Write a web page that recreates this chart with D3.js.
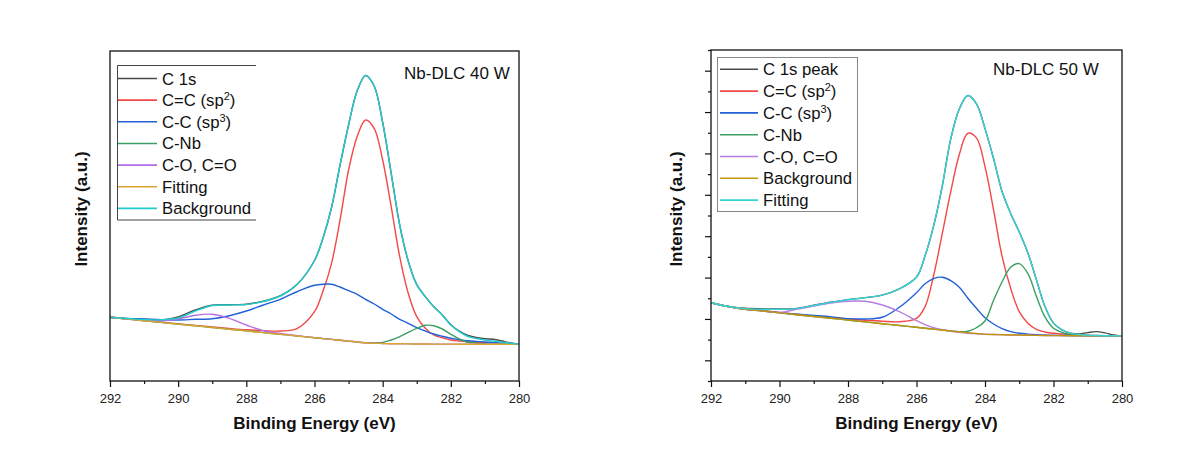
<!DOCTYPE html>
<html>
<head>
<meta charset="utf-8">
<script src="https://cdn.jsdelivr.net/npm/d3@7"></script>
<style>
  body { margin: 0; background: #fff; }
  svg { display: block; font-family: "Liberation Sans", Arial, sans-serif; }
  .axis text { font-size: 13px; fill: #222; font-family: "Liberation Sans", Arial, sans-serif; }
  .axis line { stroke: #111; stroke-width: 1.2; }
</style>
</head>
<body>
<svg id="chart" width="1194" height="452"></svg>
<script>
// binding energy grid (eV), shared by both spectra
const energy = [292, 291.5, 291, 290.5, 290, 289.5, 289, 288.5, 288, 287.5, 287, 286.5, 286,
	285.75, 285.5, 285.25, 285, 284.75, 284.5, 284.25, 284, 283.75, 283.5, 283.25, 283, 282.75,
	282.5, 282.25, 282, 281.75, 281.5, 281.25, 281, 280.75, 280.5, 280.25, 280];

const xTicks = [292, 290, 288, 286, 284, 282, 280];
const xMinorTicks = [291, 289, 287, 285, 283, 281];
const yTicks50 = [0, 40, 80, 120, 160, 200, 240, 280];
const yMinorTicks50 = [-20, 20, 60, 100, 140, 180, 220, 260, 300];

// Nb-DLC 40 W (a.u.)
const raw40 = [63.7, 62.3, 61.8, 61.0, 64.0, 71.0, 75.8, 76.3, 76.8, 79.8, 85.3, 97.0, 120.5,
	143, 173.5, 216, 256, 290, 305.5, 295, 258.5, 207.7, 156, 120, 96.3, 84.4,
	74.2, 66.0, 56.3, 49.8, 45.5, 43.5, 42.2, 41.8, 40.0, 38.0, 36.7];
const sp2_40 = [63.7, 62.1, 60.5, 58.8, 57.2, 55.6, 54.0, 52.5, 51.2, 50.4, 50.0, 52.7, 69.3,
	90, 117.7, 161, 211, 244.3, 261, 252.7, 221, 174.3, 124.3, 87.7, 64.3, 52.7,
	46.0, 43.2, 41.0, 40.0, 39.3, 38.8, 38.3, 38.0, 37.7, 37.2, 36.7];
const sp3_40 = [63.7, 62.6, 62.0, 61.3, 61.0, 61.7, 62.3, 65.3, 70.0, 76.0, 81.7, 89.5, 95.7,
	96.8, 96.7, 94.0, 90.3, 86.7, 81.7, 77.0, 71.7, 67.0, 61.7, 57.7, 53.3, 50.0,
	47.0, 44.7, 42.7, 41.4, 40.3, 39.6, 39.0, 38.5, 38.0, 37.4, 36.7];
const cnb40 = [63.7, 62.0, 60.3, 58.6, 56.9, 55.2, 53.5, 51.8, 50.1, 48.4, 46.7, 45.0, 43.3,
	42.4, 41.6, 40.7, 39.9, 39.0, 38.3, 38.2, 38.5, 41.0, 44.3, 48.7, 52.7, 55.7,
	55.2, 52.0, 46.7, 42.0, 38.8, 37.8, 37.3, 37.0, 36.8, 36.7, 36.7];
const co40 = [63.7, 62.0, 60.5, 60.0, 62.0, 65.7, 66.8, 62.7, 56.0, 50.3, 47.5, 45.3, 43.4,
	42.4, 41.6, 40.7, 39.9, 39.0, 38.2, 37.8, 37.5, 37.3, 37.2, 37.1, 37.0, 37.0,
	36.9, 36.9, 36.9, 36.8, 36.8, 36.8, 36.8, 36.7, 36.7, 36.7, 36.7];
const bg40 = [63.7, 62.0, 60.3, 58.6, 56.9, 55.2, 53.5, 51.8, 50.1, 48.4, 46.7, 45.0, 43.3,
	42.4, 41.6, 40.7, 39.9, 39.0, 38.2, 37.8, 37.5, 37.3, 37.2, 37.1, 37.0, 37.0,
	36.9, 36.9, 36.9, 36.8, 36.8, 36.8, 36.8, 36.7, 36.7, 36.7, 36.7];
const fit40 = [63.5, 62.5, 61.5, 61.2, 63.0, 70.0, 75.5, 76.0, 76.5, 79.5, 85.0, 97.0, 120.5,
	143, 173.5, 216, 256, 290, 305.5, 295, 258.5, 207.7, 156, 120, 96.3, 84.4,
	74.2, 66.0, 56.0, 49.3, 44.5, 42.5, 41.0, 40.0, 38.8, 37.8, 36.7];

// Nb-DLC 50 W (a.u.)
const raw50 = [55.7, 52.0, 50.3, 49.8, 49.6, 50.2, 53.2, 56.2, 58.7, 60.6, 63.0, 69.0, 80.5,
	101, 130, 168, 214, 243, 256, 248, 224, 195, 163, 142, 124, 104,
	78, 52, 36, 29.5, 26.3, 25.5, 26.8, 27.7, 26.5, 24.5, 23.6];
const sp2_50 = [55.7, 52.0, 49.7, 48.0, 46.3, 44.6, 43.0, 41.5, 40.0, 38.8, 37.8, 37.3, 40.6,
	51.9, 82, 122, 163, 199, 219.5, 215, 187.3, 145.4, 100.2, 69.6, 47.0, 35.8,
	30.0, 27.4, 26.1, 25.4, 24.9, 24.5, 24.2, 24.0, 23.8, 23.7, 23.6];
const sp3_50 = [55.7, 52.0, 49.4, 47.8, 46.1, 44.5, 43.3, 42.0, 40.3, 40.0, 41.6, 51.3, 65.4,
	74.0, 79.0, 80.3, 77.0, 70.6, 60.0, 50.3, 41.2, 35.1, 30.6, 27.7, 26.1, 25.3,
	24.8, 24.5, 24.2, 24.0, 23.9, 23.8, 23.7, 23.7, 23.6, 23.6, 23.6];
const cnb50 = [55.7, 52.0, 49.4, 47.7, 45.9, 44.1, 42.4, 40.7, 38.9, 37.2, 35.4, 33.7, 31.9,
	31.0, 30.2, 29.3, 28.4, 27.6, 28.1, 31.5, 38.0, 58.0, 76.0, 90.0, 93.5, 84.0,
	62.0, 42.0, 31.0, 27.0, 25.0, 24.4, 24.0, 23.8, 23.7, 23.6, 23.6];
const co50 = [55.7, 52.0, 49.4, 47.7, 46.2, 49.3, 52.5, 55.4, 57.1, 57.1, 53.5, 47.0, 38.3,
	34.5, 31.5, 29.5, 28.1, 27.0, 26.2, 25.7, 25.3, 25.0, 24.8, 24.5, 24.4, 24.2,
	24.1, 24.0, 23.9, 23.85, 23.8, 23.75, 23.7, 23.7, 23.6, 23.6, 23.6];
const bg50 = [55.7, 52.0, 49.4, 47.7, 45.9, 44.1, 42.4, 40.7, 38.9, 37.2, 35.4, 33.7, 31.9,
	31.0, 30.2, 29.3, 28.4, 27.5, 26.7, 25.9, 25.1, 24.9, 24.7, 24.5, 24.4, 24.2,
	24.1, 24.0, 23.9, 23.85, 23.8, 23.75, 23.7, 23.7, 23.6, 23.6, 23.6];
const fit50 = [55.7, 52.0, 50.0, 49.4, 49.3, 50.0, 53.0, 56.0, 58.5, 60.5, 63.0, 69.0, 80.5,
	101, 130, 168, 214, 243, 256, 248, 224, 195, 163, 142, 124, 104,
	78, 52, 36, 29.5, 26.3, 25.0, 24.4, 24.0, 23.8, 23.7, 23.6];

const labels40 = ["C 1s", "C=C (sp^2)", "C-C (sp^3)", "C-Nb", "C-O, C=O", "Fitting", "Background"];
const labels50 = ["C 1s peak", "C=C (sp^2)", "C-C (sp^3)", "C-Nb", "C-O, C=O", "Background", "Fitting"];
const colors40 = ["#4a4a4a", "#f24848", "#2262d8", "#3c9f63", "#b46ee6", "#dca52c", "#22cccc"];
const colors50 = ["#4a4a4a", "#f24848", "#2262d8", "#3c9f63", "#b47ee2", "#c4950c", "#36d5d5"];

const svg = d3.select("#chart");

const panels = [
	{
		x0: 110, x1: 519, y0: 51, y1: 381, yDomain: [0, 330],
		series: [raw40, sp2_40, sp3_40, cnb40, co40, bg40, fit40],
		labels: labels40, colors: colors40,
		title: "Nb-DLC 40 W", titleX: 404, titleY: 79,
		box: {x0: 117.5, x1: 256, y0: 65.5, y1: 220, open: true},
		rowY: 78.5, rowStep: 21.65, lineX0: 118, lineX1: 157, textX: 162,
		yTitleX: 87
	},
	{
		x0: 711, x1: 1122, y0: 50, y1: 381, yDomain: [-20, 300],
		yTicks: yTicks50, yMinor: yMinorTicks50,
		series: [raw50, sp2_50, sp3_50, cnb50, co50, bg50, fit50],
		labels: labels50, colors: colors50,
		title: "Nb-DLC 50 W", titleX: 993, titleY: 75,
		box: {x0: 717.5, x1: 857.5, y0: 57.5, y1: 211.5, open: false},
		rowY: 69.3, rowStep: 21.8, lineX0: 720, lineX1: 758, textX: 763,
		yTitleX: 682
	}
];

function addLabel(text, str) {
	const m = str.match(/^(.*)\^(\d)(.*)$/);
	if (!m) { text.text(str); return; }
	text.append("tspan").text(m[1]);
	text.append("tspan").attr("dy", -6).attr("font-size", "11px").text(m[2]);
	text.append("tspan").attr("dy", 6).text(m[3]);
}

panels.forEach((p) => {
	const xScale = d3.scaleLinear().domain([292, 280]).range([p.x0, p.x1]);
	const yScale = d3.scaleLinear().domain(p.yDomain).range([p.y1, p.y0]);
	const g = svg.append("g");

	// x axis: major + minor ticks
	g.append("g")
		.attr("class", "axis")
		.attr("transform", "translate(0," + p.y1 + ")")
		.call(d3.axisBottom(xScale).tickValues(xTicks).tickSize(6).tickPadding(6.5).tickFormat(d3.format("d")))
		.call((a) => a.select(".domain").remove());
	g.append("g")
		.attr("class", "axis")
		.attr("transform", "translate(0," + p.y1 + ")")
		.call(d3.axisBottom(xScale).tickValues(xMinorTicks).tickSize(3).tickFormat(""))
		.call((a) => a.select(".domain").remove());

	if (p.yTicks) {
		g.append("g")
			.attr("class", "axis")
			.attr("transform", "translate(" + p.x0 + ",0)")
			.call(d3.axisLeft(yScale).tickValues(p.yTicks).tickSize(6).tickFormat(""))
			.call((a) => a.select(".domain").remove());
		g.append("g")
			.attr("class", "axis")
			.attr("transform", "translate(" + p.x0 + ",0)")
			.call(d3.axisLeft(yScale).tickValues(p.yMinor).tickSize(3).tickFormat(""))
			.call((a) => a.select(".domain").remove());
	}

	const line = d3.line()
		.x((d, i) => xScale(energy[i]))
		.y((d) => yScale(d))
		.curve(d3.curveCatmullRom.alpha(0.5));

	p.series.forEach((s, i) => {
		g.append("path")
			.datum(s)
			.attr("fill", "none")
			.attr("stroke", p.colors[i])
			.attr("stroke-width", 1.4)
			.attr("d", line);
	});

	// frame
	g.append("rect")
		.attr("x", p.x0).attr("y", p.y0)
		.attr("width", p.x1 - p.x0).attr("height", p.y1 - p.y0)
		.attr("fill", "none").attr("stroke", "#111").attr("stroke-width", 1.3);

	// legend
	const b = p.box;
	if (b.open) {
		g.append("path")
			.attr("d", "M" + b.x1 + "," + b.y0 + "H" + b.x0 + "V" + b.y1 + "H" + b.x1)
			.attr("fill", "none").attr("stroke", "#444").attr("stroke-width", 1);
	} else {
		g.append("rect")
			.attr("x", b.x0).attr("y", b.y0)
			.attr("width", b.x1 - b.x0).attr("height", b.y1 - b.y0)
			.attr("fill", "#fff").attr("stroke", "#888").attr("stroke-width", 1);
	}
	p.labels.forEach((lab, i) => {
		const ly = p.rowY + i * p.rowStep;
		g.append("line")
			.attr("x1", p.lineX0).attr("x2", p.lineX1)
			.attr("y1", ly).attr("y2", ly)
			.attr("stroke", p.colors[i]).attr("stroke-width", 1.6);
		const t = g.append("text")
			.attr("x", p.textX).attr("y", ly)
			.attr("dy", "0.36em")
			.attr("font-size", "16.7px")
			.attr("fill", "#111");
		addLabel(t, lab);
	});

	g.append("text")
		.attr("x", p.titleX).attr("y", p.titleY)
		.attr("font-size", "17px").attr("fill", "#111")
		.text(p.title);

	g.append("text")
		.attr("x", (p.x0 + p.x1) / 2).attr("y", 429)
		.attr("text-anchor", "middle")
		.attr("font-size", "17px").attr("font-weight", "bold").attr("fill", "#111")
		.text("Binding Energy (eV)");

	g.append("text")
		.attr("transform", "translate(" + p.yTitleX + ",209) rotate(-90)")
		.attr("text-anchor", "middle")
		.attr("font-size", "17px").attr("font-weight", "bold").attr("fill", "#111")
		.text("Intensity (a.u.)");
});
</script>
</body>
</html>
